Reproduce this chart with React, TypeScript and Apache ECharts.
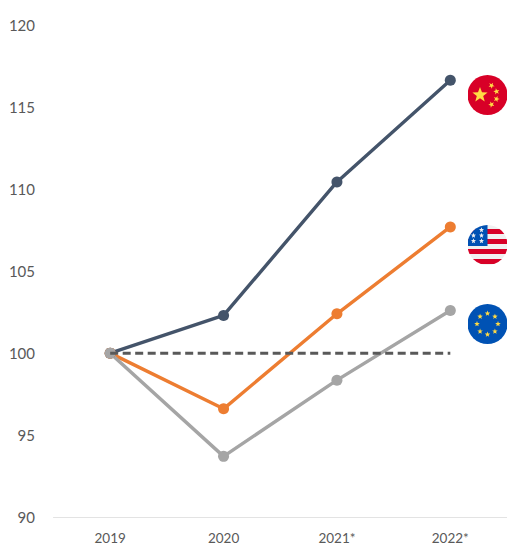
import React, { useEffect, useRef } from "react";
import * as echarts from "echarts";

const years = ["2019", "2020", "2021*", "2022*"];
const china = [100, 102.3, 110.45, 116.65];
const usa = [100, 96.6, 102.4, 107.7];
const eu = [100, 93.7, 98.35, 102.6];
const baseline = [100, 100, 100, 100];

function star(cx: number, cy: number, r: number, rot = -90): string {
  const pts: string[] = [];
  for (let i = 0; i < 10; i++) {
    const rad = i % 2 === 0 ? r : r * 0.42;
    const a = ((rot + i * 36) * Math.PI) / 180;
    pts.push(`${(cx + rad * Math.cos(a)).toFixed(2)},${(cy + rad * Math.sin(a)).toFixed(2)}`);
  }
  return pts.join(" ");
}

function badge(body: string): string {
  const svg = `<svg xmlns="http://www.w3.org/2000/svg" width="80" height="80" viewBox="0 0 40 40"><defs><clipPath id="c"><circle cx="20" cy="20" r="20"/></clipPath></defs><g clip-path="url(#c)">${body}</g></svg>`;
  return "data:image/svg+xml;charset=utf-8," + encodeURIComponent(svg);
}

function chinaFlag(): string {
  const yellow = "#FFDA44";
  return badge(
    `<rect width="40" height="40" fill="#D80027"/>` +
      `<polygon fill="${yellow}" points="${star(12.5, 20, 8)}"/>` +
      [
        [24, 10.5, -60],
        [29, 16.5, -30],
        [29, 24, 0],
        [24, 29.5, 30],
      ]
        .map(([x, y, r]) => `<polygon fill="${yellow}" points="${star(x, y, 3.2, r)}"/>`)
        .join("")
  );
}

function usaFlag(): string {
  const stripes = [4, 14, 24, 34]
    .map((y) => `<rect x="0" y="${y}" width="40" height="5" fill="#D80027"/>`)
    .join("");
  const stars = [
    [14, 5],
    [6, 10.5], [14, 10.5],
    [6, 16], [14, 16],
  ]
    .map(([x, y]) => `<polygon fill="#F0F0F0" points="${star(x, y, 2.7)}"/>`)
    .join("");
  return badge(
    `<rect width="40" height="40" fill="#F0F0F0"/>${stripes}` +
      `<rect x="0" y="0" width="20" height="21" fill="#0052B4"/>${stars}`
  );
}

function euFlag(): string {
  const ring = Array.from({ length: 8 }, (_, i) => {
    const a = (i * 45 * Math.PI) / 180;
    return `<polygon fill="#FFDA44" points="${star(20 + 10.5 * Math.sin(a), 20 - 10.5 * Math.cos(a), 2.9)}"/>`;
  }).join("");
  return badge(`<rect width="40" height="40" fill="#0052B4"/>${ring}`);
}

function flagImage(src: string, cx: number, cy: number) {
  return {
    type: "image",
    left: cx - 20,
    top: cy - 20,
    style: { image: src, x: 0, y: 0, width: 40, height: 40 },
  };
}

function lineSeries(data: number[], color: string) {
  return {
    type: "line",
    data,
    symbol: "circle",
    symbolSize: 11,
    lineStyle: { color, width: 3.4 },
    itemStyle: { color },
    z: 2,
  };
}

export default function App() {
  const ref = useRef<HTMLDivElement>(null);

  useEffect(() => {
    const chart = echarts.init(ref.current!, null, { renderer: "svg" });
    chart.setOption({
      animation: false,
      grid: { left: 53.5, top: 25.4, width: 454, height: 492.4 },
      xAxis: {
        type: "category",
        data: years,
        boundaryGap: true,
        axisLine: { lineStyle: { color: "#E3E3E3", width: 1 } },
        axisTick: { show: false },
        axisLabel: { color: "#595959", fontFamily: "Lato", fontSize: 13.5, margin: 14 },
      },
      yAxis: {
        type: "value",
        min: 90,
        max: 120,
        interval: 5,
        axisLine: { show: false },
        axisTick: { show: false },
        splitLine: { show: false },
        axisLabel: { color: "#595959", fontFamily: "Lato", fontSize: 15, margin: 18.5 },
      },
      series: [
        lineSeries(china, "#44546A"),
        lineSeries(usa, "#ED7D31"),
        lineSeries(eu, "#A5A5A5"),
        {
          type: "line",
          data: baseline,
          symbol: "none",
          lineStyle: { color: "#595959", width: 3, type: [8, 4.5] },
          z: 3,
        },
      ],
      graphic: [
        flagImage(chinaFlag(), 487.5, 95),
        flagImage(usaFlag(), 487.5, 245),
        flagImage(euFlag(), 487.5, 324),
      ],
    });
    return () => chart.dispose();
  }, []);

  return (
    <div
      ref={ref}
      style={{ position: "fixed", left: 0, top: 0, width: 507, height: 545, background: "#fff" }}
    />
  );
}
